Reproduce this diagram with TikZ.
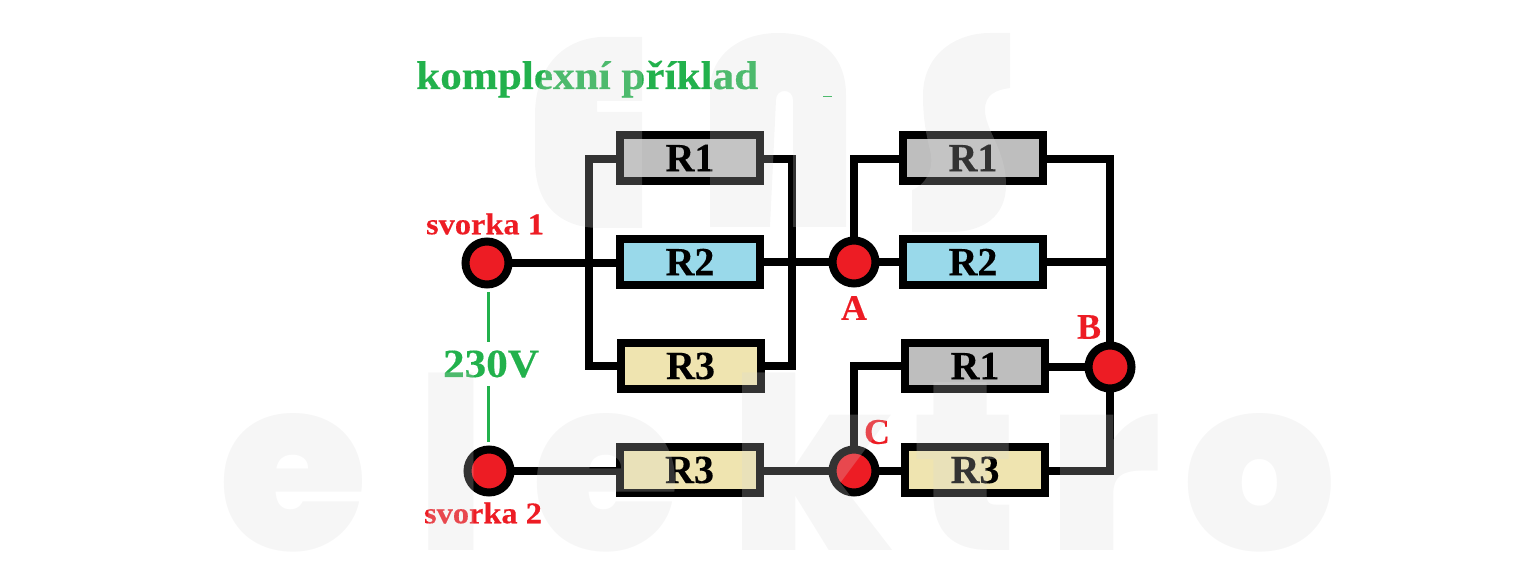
\documentclass[tikz,border=0pt]{standalone}
\usepackage{fontspec}
\setmainfont{Liberation Serif}[BoldFont={Liberation Serif Bold},BoldFeatures={FakeBold=0.3}]
\newfontfamily\stf{Liberation Serif Bold}[FakeStretch=1.08,FakeBold=0.4]
\newfontfamily\wmfont{Poppins Black}
\definecolor{grn}{HTML}{22B14C}
\definecolor{rd}{HTML}{ED1C24}
\definecolor{resA}{HTML}{BEBEBE}
\definecolor{resB}{HTML}{99D9EA}
\definecolor{resC}{HTML}{EFE4B0}
\definecolor{wm}{gray}{0.85}
\tikzset{
 x=1pt,y=-1pt,
 res/.style={draw=black,line width=8pt,minimum width=140pt,minimum height=46pt,outer sep=0pt,inner sep=0pt,font=\fontsize{40}{40}\selectfont\bfseries},
 term/.style={circle,draw=black,fill=rd,line width=8pt,minimum size=43pt,inner sep=0pt,outer sep=0pt},
 wire/.style={draw=black,line width=8pt,line join=miter},
 lab/.style={text=rd,font=\stf\fontsize{30}{30}\selectfont,inner sep=0pt},
 big/.style={text=rd,font=\fontsize{36}{36}\selectfont\bfseries,inner sep=0pt},
 volt/.style={draw=grn,line width=3pt},
 wmark/.style={text=wm,text opacity=0.235,inner sep=0pt,anchor=base,font=\wmfont\fontsize{240}{240}\selectfont},
 wshape/.style={fill=wm,fill opacity=0.235,draw=none}
}
\begin{document}
\begin{tikzpicture}
\useasboundingbox (0,0) rectangle (1537,585);
% nodes
\node[term] (S1) at (487,263) {};
\node[term] (S2) at (489,471) {};
\node[term] (A) at (854,262) {};
\node[term] (B) at (1110,367) {};
\node[term] (C) at (854,471) {};
\node[res,fill=resA] (L1) at (690,158) {R1};
\node[res,fill=resB] (L2) at (690,262) {R2};
\node[res,fill=resC] (L3) at (690.5,366) {R3};
\node[res,fill=resC] (L4) at (689.5,470) {R3};
\node[res,fill=resA] (U1) at (973,158) {R1};
\node[res,fill=resB] (U2) at (973,262) {R2};
\node[res,fill=resA] (D1) at (975,366) {R1};
\node[res,fill=resC] (D3) at (975,470) {R3};
\coordinate (bl) at (589,262);
\coordinate (br) at (792,262);
\coordinate (bus) at (1110,262);
% wires
\draw[wire] (S1) -- (S1 -| L2.west);
\draw[wire] (L2.east) -- (A);
\draw[wire] ([yshift=-1pt]L1.west) -| (bl) |- (L3.west);
\draw[wire] ([yshift=-1pt]L1.east) -| (br) |- (L3.east);
\draw[wire] (S2) -- (S2 -| L4.west);
\draw[wire] (L4.east |- C) -- (C);
\draw[wire] (A) -- (U2.west);
\draw[wire] (A.north) |- ([yshift=-1pt]U1.west);
\draw[wire] ([yshift=-1pt]U1.east) -| (B.north);
\draw[wire] (U2.east) -- (bus);
\draw[wire] (C.north) |- (D1.west);
\draw[wire] (C) -- (C -| D3.west);
\draw[wire] (D1.east |- B) -- (B);
\draw[wire] ([yshift=-1pt]D3.east) -| (B.south);
% labels
\node[text=grn,font=\stf\fontsize{40}{40}\selectfont,inner sep=0pt,anchor=base west] (title) at (416,89) {komplexní příklad};
\node[lab] (ls1) at (485,224) {svorka 1};
\node[lab] (ls2) at (483,513) {svorka 2};
\node[text=grn,font=\stf\fontsize{40}{40}\selectfont,inner sep=0pt] (V) at (491,364) {230V};
\node[big] (la) at (854,308) {A};
\node[big] (lb) at (1089,327) {B};
\node[big] (lc) at (877,432) {C};
\coordinate (g1) at (488,292);
\coordinate (g2) at (488,342);
\coordinate (g3) at (488,386);
\coordinate (g4) at (488,442);
\draw[volt] (g1) -- (g2);
\draw[volt] (g3) -- (g4);
\coordinate (d1) at (823,97);
\coordinate (d2) at (832,97);
\draw[grn,line width=1pt] (d1) -- (d2);
% watermark, upper word
\path[wshape] (642,37) -- (600,37) .. controls (560,40) and (535,70) .. (535,115)
  -- (535,160) .. controls (535,205) and (560,228) .. (600,228) -- (642,228) -- (642,112) -- (597,112)
  -- (597,101) -- (642,101) -- cycle;
\path[wshape] (710,227) -- (710,90) .. controls (710,55) and (740,33) .. (778,33)
  .. controls (820,33) and (846,55) .. (846,95) -- (846,227) -- (793,227) -- (793,100)
  .. controls (793,88) and (776,88) .. (776,100) -- (770,227) -- cycle;
\path[wshape] (1010,33) -- (1010,88) .. controls (995,90) and (985,95) .. (985,110)
  .. controls (985,130) and (1006,150) .. (1006,185) .. controls (1006,215) and (985,232) .. (950,232)
  -- (912,232) -- (912,190) .. controls (925,185) and (935,170) .. (930,150)
  .. controls (925,130) and (923,115) .. (923,95) .. controls (923,55) and (955,33) .. (990,33) -- cycle;
% watermark, lower word
\node[wmark] (w4) at (293,550) {e};
\node[wmark] (w5) at (451,550) {\scalebox{0.85}[1]{l}};
\node[wmark] (w6) at (606,550) {e};
\node[wmark] (w7) at (812,550) {k};
\node[wmark] (w8) at (966,550) {t};
\node[wmark] (w9) at (1105,550) {r};
\node[wmark] (w10) at (1260,550) {o};
\end{tikzpicture}
\end{document}
